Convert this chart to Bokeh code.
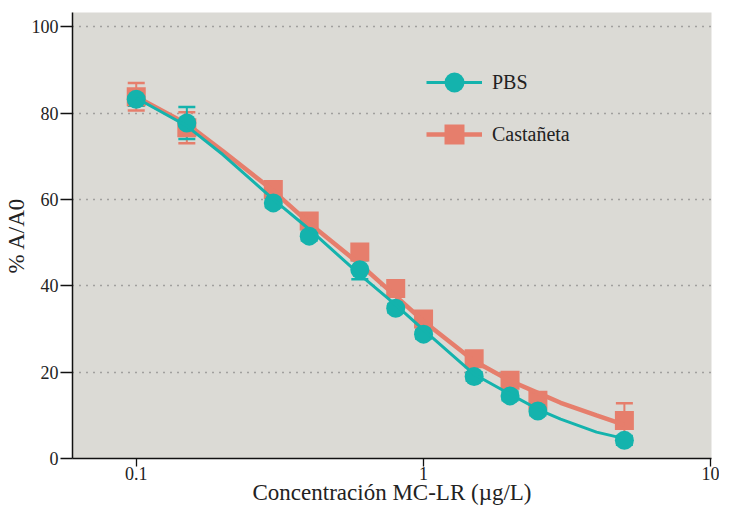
from bokeh.plotting import figure
from bokeh.models import (FixedTicker, Whisker, ColumnDataSource, Legend, LegendItem,
                          Range1d, TeeHead)
from bokeh.embed import file_html
from bokeh.resources import INLINE

# ---- data ----
conc = [0.1, 0.15, 0.3, 0.4, 0.6, 0.8, 1.0, 1.5, 2.0, 2.5, 5.0]
pbs = [83.2, 77.7, 59.2, 51.5, 43.7, 34.8, 28.8, 19.0, 14.5, 11.0, 4.2]
pbs_err = [1.5, 3.7, 1.0, 1.0, 2.2, 1.0, 1.0, 1.0, 1.0, 1.0, 1.0]
cast = [83.8, 76.6, 62.3, 55.0, 47.8, 39.4, 32.3, 23.1, 18.1, 13.5, 8.8]
cast_err = [3.2, 3.6, 1.0, 1.0, 1.0, 1.0, 1.0, 1.0, 1.0, 1.0, 4.0]

fit_x = [0.1, 0.15, 0.2, 0.3, 0.4, 0.6, 0.8, 1.0, 1.5, 2.0, 2.5, 3.0, 4.0, 5.0]
pbs_fit = [83.5, 77.0, 70.4, 60.0, 53.1, 42.6, 35.6, 29.8, 19.5, 14.9, 11.4, 9.1, 6.1, 4.6]
cast_fit = [83.8, 77.5, 71.2, 62.0, 54.5, 45.0, 37.6, 31.8, 22.6, 18.0, 15.2, 12.9, 10.0, 7.8]

x_ticks = [0.1, 1, 10]
x_tick_labels = ["0.1", "1", "10"]
y_ticks = [0, 20, 40, 60, 80, 100]

TEAL = "#14b3ad"
SALMON = "#e67e6c"
BG = "#dbdad5"
FONT = "'Liberation Serif', serif"

p = figure(width=719, height=507, x_axis_type="log", output_backend="svg",
           toolbar_location=None, x_range=Range1d(0.06, 10.05), y_range=Range1d(0, 103.3),
           min_border_left=71, min_border_right=8, min_border_top=12, min_border_bottom=46)
p.background_fill_color = BG
p.border_fill_color = "white"
p.outline_line_color = None

src_p = ColumnDataSource(dict(x=conc, y=pbs, up=[a + b for a, b in zip(pbs, pbs_err)],
                              lo=[a - b for a, b in zip(pbs, pbs_err)]))
src_c = ColumnDataSource(dict(x=conc, y=cast, up=[a + b for a, b in zip(cast, cast_err)],
                              lo=[a - b for a, b in zip(cast, cast_err)]))

def add_whisker(src, color):
    w = Whisker(source=src, base="x", upper="up", lower="lo", dimension="height",
                line_color=color, line_width=2,
                upper_head=TeeHead(size=17, line_color=color, line_width=2.5),
                lower_head=TeeHead(size=17, line_color=color, line_width=2.5))
    p.add_layout(w)

# Castañeta first (drawn under PBS)
add_whisker(src_c, SALMON)
c_sc = p.scatter("x", "y", source=src_c, marker="square", size=19, fill_color=SALMON,
                 line_color=None)
c_ln = p.line(fit_x, cast_fit, line_color=SALMON, line_width=4.5)

add_whisker(src_p, TEAL)
p_sc = p.scatter("x", "y", source=src_p, marker="circle", size=19, fill_color=TEAL,
                 line_color=None)
p_ln = p.line(fit_x, pbs_fit, line_color=TEAL, line_width=3)

legend = Legend(items=[LegendItem(label="PBS", renderers=[p_ln, p_sc]),
                       LegendItem(label="Castañeta", renderers=[c_ln, c_sc])],
                location=(354, 299), glyph_width=56, glyph_height=50, spacing=2,
                padding=0, margin=0, label_standoff=10, border_line_color=None,
                background_fill_alpha=0, label_text_font=FONT, label_text_font_size="20px",
                label_text_color="#222222")
p.add_layout(legend)

# grids
p.xgrid.grid_line_color = None
p.ygrid.grid_line_color = "#666666"
p.ygrid.grid_line_dash = "1 6"
p.ygrid.grid_line_width = 1.3
p.ygrid.ticker = FixedTicker(ticks=[20, 40, 60, 80, 100])

# axes
xa = p.xaxis[0]
xa.ticker = FixedTicker(ticks=x_ticks, minor_ticks=[])
xa.major_label_overrides = {float(t): s for t, s in zip(x_ticks, x_tick_labels)}
xa.axis_label = "Concentración MC-LR (µg/L)"
ya = p.yaxis[0]
ya.ticker = FixedTicker(ticks=y_ticks, minor_ticks=[])
ya.axis_label = "% A/A0"

for ax in (xa, ya):
    ax.axis_line_color = "#111111"
    ax.axis_line_width = 1.5
    ax.major_tick_line_color = "#111111"
    ax.major_tick_line_width = 1.3
    ax.major_tick_in = 0
    ax.minor_tick_line_color = None
    ax.major_label_text_font = FONT
    ax.major_label_text_font_size = "18px"
    ax.major_label_text_color = "#222222"
    ax.axis_label_text_font = FONT
    ax.axis_label_text_font_size = "23px"
    ax.axis_label_text_font_style = "normal"
    ax.axis_label_text_color = "#222222"

xa.major_tick_out = 8
xa.major_label_standoff = 0
xa.axis_label_standoff = -3
ya.major_tick_out = 12
ya.major_label_standoff = 2
ya.axis_label_standoff = 0

open("out.html", "w").write(file_html(p, INLINE))
